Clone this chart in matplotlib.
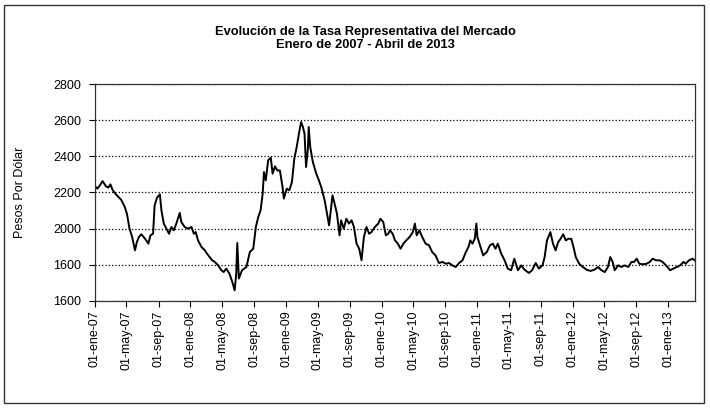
#!/usr/bin/env python3
"""
Evolucion de la TRM (pesos por dolar), enero 2007 - abril 2013.
Values read off a scanned chart, roughly every 10 days.
"""

import matplotlib
matplotlib.use('Agg')
import matplotlib.pyplot as plt
from matplotlib.patches import Rectangle
import pandas as pd

plt.rcParams['font.family'] = ['Liberation Sans', 'DejaVu Sans']

# --- data ---
fechas = [
    '2007-01-02', '2007-01-10', '2007-01-20', '2007-01-30', '2007-02-12', '2007-02-21',
    '2007-03-01', '2007-03-10', '2007-03-20', '2007-03-29', '2007-04-11', '2007-04-24',
    '2007-05-03', '2007-05-13', '2007-05-23', '2007-06-03', '2007-06-10', '2007-06-18',
    '2007-06-27', '2007-07-06', '2007-07-16', '2007-07-24', '2007-08-01', '2007-08-11',
    '2007-08-17', '2007-08-26', '2007-09-06', '2007-09-12', '2007-09-21', '2007-10-01',
    '2007-10-11', '2007-10-20', '2007-10-29', '2007-11-08', '2007-11-21', '2007-11-27',
    '2007-12-10', '2007-12-22', '2008-01-05', '2008-01-14', '2008-01-21', '2008-01-30',
    '2008-02-12', '2008-02-25', '2008-03-04', '2008-03-14', '2008-03-24', '2008-04-03',
    '2008-04-16', '2008-04-28', '2008-05-07', '2008-05-17', '2008-05-29', '2008-06-09',
    '2008-06-18', '2008-06-24', '2008-06-28', '2008-07-04', '2008-07-16', '2008-08-02',
    '2008-08-15', '2008-08-28', '2008-09-07', '2008-09-16', '2008-09-25', '2008-10-03',
    '2008-10-08', '2008-10-15', '2008-10-24', '2008-11-03', '2008-11-10', '2008-11-19',
    '2008-11-28', '2008-12-08', '2008-12-18', '2008-12-23', '2009-01-03', '2009-01-13',
    '2009-01-23', '2009-02-01', '2009-02-10', '2009-02-21', '2009-02-27', '2009-03-06',
    '2009-03-12', '2009-03-18', '2009-03-25', '2009-03-28', '2009-04-03', '2009-04-13',
    '2009-04-26', '2009-05-06', '2009-05-15', '2009-05-28', '2009-06-06', '2009-06-14',
    '2009-06-19', '2009-06-27', '2009-07-05', '2009-07-14', '2009-07-24', '2009-07-30',
    '2009-08-09', '2009-08-19', '2009-08-29', '2009-09-08', '2009-09-17', '2009-09-27',
    '2009-10-07', '2009-10-16', '2009-10-25', '2009-11-04', '2009-11-14', '2009-11-23',
    '2009-12-06', '2009-12-19', '2009-12-27', '2010-01-07', '2010-01-17', '2010-01-26',
    '2010-02-02', '2010-02-12', '2010-02-21', '2010-03-04', '2010-03-14', '2010-03-25',
    '2010-04-05', '2010-04-18', '2010-04-30', '2010-05-08', '2010-05-15', '2010-05-25',
    '2010-06-05', '2010-06-18', '2010-07-01', '2010-07-13', '2010-07-26', '2010-08-08',
    '2010-08-21', '2010-09-04', '2010-09-16', '2010-09-28', '2010-10-11', '2010-10-24',
    '2010-11-06', '2010-11-19', '2010-11-29', '2010-12-06', '2010-12-14', '2010-12-23',
    '2010-12-29', '2011-01-02', '2011-01-12', '2011-01-24', '2011-02-07', '2011-02-19',
    '2011-03-02', '2011-03-12', '2011-03-21', '2011-04-03', '2011-04-16', '2011-04-28',
    '2011-05-11', '2011-05-23', '2011-06-06', '2011-06-19', '2011-07-01', '2011-07-18',
    '2011-07-30', '2011-08-13', '2011-08-25', '2011-09-08', '2011-09-16', '2011-09-25',
    '2011-10-08', '2011-10-18', '2011-10-28', '2011-11-07', '2011-11-16', '2011-11-26',
    '2011-12-06', '2011-12-15', '2011-12-27', '2012-01-06', '2012-01-13', '2012-01-26',
    '2012-02-09', '2012-02-24', '2012-03-09', '2012-03-25', '2012-04-07', '2012-04-20',
    '2012-05-03', '2012-05-15', '2012-05-24', '2012-06-02', '2012-06-10', '2012-06-23',
    '2012-07-06', '2012-07-18', '2012-08-01', '2012-08-13', '2012-08-23', '2012-09-02',
    '2012-09-12', '2012-09-27', '2012-10-10', '2012-10-22', '2012-11-02', '2012-11-15',
    '2012-11-28', '2012-12-10', '2012-12-23', '2013-01-08', '2013-01-20', '2013-02-03',
    '2013-02-15', '2013-02-28', '2013-03-08', '2013-03-21', '2013-04-04', '2013-04-13',
]

trm = [
    2234, 2221, 2240, 2263, 2234, 2227,
    2245, 2212, 2193, 2179, 2160, 2123,
    2083, 2000, 1954, 1880, 1926, 1954,
    1969, 1954, 1935, 1917, 1963, 1972,
    2129, 2171, 2190, 2101, 2028, 2000,
    1972, 2009, 1991, 2028, 2087, 2037,
    2009, 2000, 2009, 1972, 1981, 1935,
    1899, 1880, 1862, 1843, 1825, 1816,
    1797, 1770, 1760, 1779, 1751, 1705,
    1659, 1751, 1921, 1724, 1770, 1788,
    1871, 1889, 2009, 2064, 2101, 2193,
    2313, 2267, 2378, 2393, 2304, 2345,
    2322, 2322, 2230, 2166, 2221, 2212,
    2258, 2387, 2451, 2544, 2590, 2562,
    2525, 2341, 2442, 2562, 2451, 2368,
    2304, 2267, 2230, 2157, 2083, 2018,
    2083, 2184, 2138, 2083, 1963, 2046,
    2000, 2055, 2028, 2046, 2009, 1917,
    1889, 1825, 1954, 2009, 1972, 1981,
    2009, 2028, 2055, 2037, 1963, 1972,
    1991, 1972, 1935, 1917, 1889, 1917,
    1935, 1954, 1981, 2028, 1963, 1991,
    1954, 1917, 1908, 1871, 1852, 1810,
    1816, 1806, 1810, 1797, 1788, 1810,
    1825, 1871, 1899, 1935, 1917, 1944,
    2028, 1954, 1908, 1852, 1871, 1908,
    1917, 1889, 1917, 1862, 1825, 1779,
    1770, 1834, 1770, 1797, 1773, 1755,
    1770, 1810, 1779, 1797, 1843, 1935,
    1981, 1917, 1880, 1926, 1944, 1969,
    1935, 1944, 1944, 1889, 1843, 1806,
    1788, 1773, 1766, 1773, 1788, 1770,
    1760, 1788, 1843, 1816, 1770, 1797,
    1788, 1797, 1788, 1816, 1816, 1834,
    1806, 1803, 1806, 1816, 1834, 1825,
    1825, 1816, 1797, 1770, 1779, 1788,
    1797, 1816, 1806, 1825, 1834, 1823,
]

tick_fechas = [
    '2007-01-01', '2007-05-01', '2007-09-01', '2008-01-01', '2008-05-01', '2008-09-01',
    '2009-01-01', '2009-05-01', '2009-09-01', '2010-01-01', '2010-05-01', '2010-09-01',
    '2011-01-01', '2011-05-01', '2011-09-01', '2012-01-01', '2012-05-01', '2012-09-01',
    '2013-01-01',
]
tick_labels = [
    '01-ene-07', '01-may-07', '01-sep-07', '01-ene-08', '01-may-08', '01-sep-08',
    '01-ene-09', '01-may-09', '01-sep-09', '01-ene-10', '01-may-10', '01-sep-10',
    '01-ene-11', '01-may-11', '01-sep-11', '01-ene-12', '01-may-12', '01-sep-12',
    '01-ene-13',
]
y_ticks = [1600, 1800, 2000, 2200, 2400, 2600, 2800]
y_labels = ['1600', '1600', '2000', '2200', '2400', '2600', '2800']  # as printed in the scan

fechas = pd.to_datetime(fechas)
tick_fechas = pd.to_datetime(tick_fechas)

fig = plt.figure(figsize=(7.1, 4.09), dpi=100)
ax = fig.add_axes([0.1338, 0.2641, 0.9789 - 0.1338, 0.7946 - 0.2641])

ax.plot(fechas, trm, color='black', linewidth=1.4)

ax.set_xlim(pd.Timestamp('2007-01-01'), pd.Timestamp('2013-04-13'))
ax.set_ylim(1600, 2800)
ax.set_yticks(y_ticks)
ax.set_yticklabels(y_labels)
ax.set_xticks(tick_fechas)
ax.set_xticklabels(tick_labels, rotation=90)

ax.tick_params(axis='both', direction='out', length=4, width=0.8, labelsize=9)
ax.tick_params(axis='y', pad=6)
ax.tick_params(axis='x', pad=3)
ax.grid(axis='y', linestyle=':', color='black', linewidth=0.9)
for s in ax.spines.values():
    s.set_linewidth(0.9)
    s.set_color('#333333')

ax.set_ylabel('Pesos Por Dólar', fontsize=9)
ax.yaxis.set_label_coords(-0.115, 0.5)

fig.text(0.514, 0.922, 'Evolución de la Tasa Representativa del Mercado',
         ha='center', va='center', fontsize=9.3, fontweight='bold')
fig.text(0.514, 0.889, 'Enero de 2007 - Abril de 2013',
         ha='center', va='center', fontsize=9.3, fontweight='bold')

# outer frame of the chart
fig.patches.append(Rectangle((0.006, 0.015), 0.986, 0.972, transform=fig.transFigure,
                             fill=False, edgecolor='#333333', linewidth=1.0))

fig.savefig('out.png', dpi=100)
